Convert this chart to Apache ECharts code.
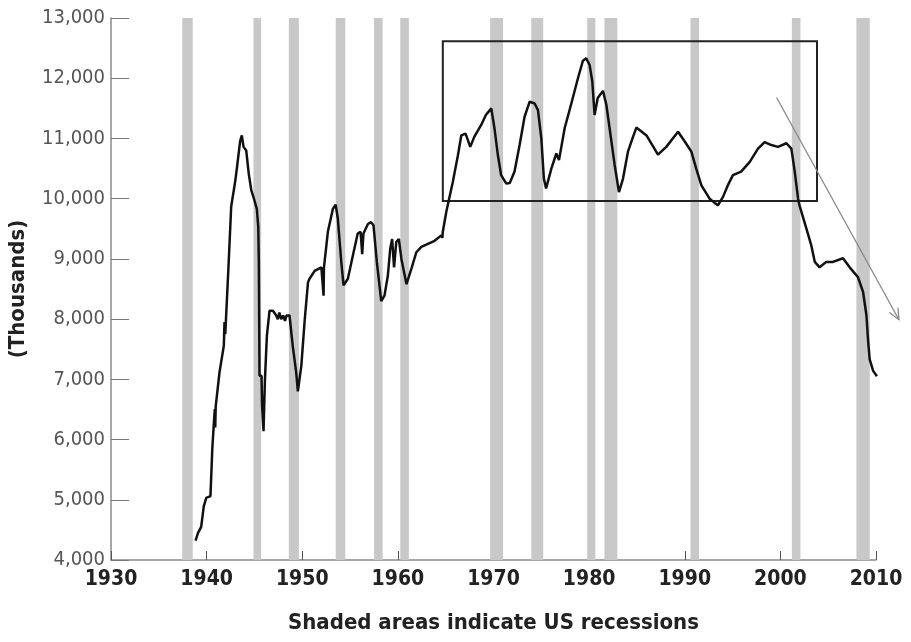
<!DOCTYPE html>
<html>
<head>
<meta charset="utf-8">
<script src="https://cdn.jsdelivr.net/npm/echarts@6/dist/echarts.min.js"></script>
<style>html,body{margin:0;padding:0;background:#fff;}#c{width:911px;height:642px;}</style>
</head>
<body>
<div id="c"></div>
<script>
// ---- data ----
const years = [1938.84,1939.1,1939.43,1939.7,1939.96,1940.4,1940.6,1940.85,1940.9,1940.95,1941.35,1941.8,1941.87,1941.95,1942.3,1942.47,1942.57,1943.0,1943.16,1943.35,1943.5,1943.68,1943.86,1944.0,1944.14,1944.4,1944.67,1945.0,1945.25,1945.4,1945.46,1945.53,1945.74,1945.8,1945.95,1946.1,1946.3,1946.58,1946.93,1947.2,1947.45,1947.6,1947.8,1948.0,1948.2,1948.35,1948.67,1949.0,1949.37,1949.54,1949.9,1950.24,1950.6,1950.76,1951.3,1952.0,1952.23,1952.27,1952.68,1953.2,1953.5,1953.72,1954.08,1954.32,1954.77,1955.3,1955.8,1956.1,1956.27,1956.4,1956.87,1957.2,1957.45,1957.8,1958.26,1958.6,1958.95,1959.2,1959.4,1959.6,1959.83,1960.1,1960.37,1960.9,1961.4,1961.93,1962.45,1963.14,1963.84,1964.54,1964.65,1964.7,1965.06,1965.75,1966.28,1966.63,1967.08,1967.57,1968.0,1968.7,1969.2,1969.77,1970.1,1970.46,1970.8,1971.34,1971.7,1972.2,1972.73,1973.25,1973.78,1974.3,1974.65,1975.0,1975.27,1975.5,1976.05,1976.57,1976.85,1977.44,1978.14,1978.83,1979.35,1979.7,1980.05,1980.33,1980.57,1980.9,1981.45,1981.8,1982.14,1982.67,1983.12,1983.54,1984.06,1984.6,1984.94,1986.0,1987.2,1988.07,1989.3,1990.0,1990.69,1991.2,1991.74,1992.6,1993.13,1993.47,1994.0,1994.5,1995.04,1995.9,1996.8,1997.66,1998.36,1999.06,1999.75,2000.63,2001.15,2001.5,2001.85,2002.0,2002.73,2003.24,2003.6,2004.1,2004.8,2005.5,2006.55,2007.25,2008.1,2008.65,2009.0,2009.16,2009.34,2009.7,2010.1];
const employment = [4320,4450,4550,4890,5030,5060,5870,6500,6200,6550,7120,7560,7950,7750,8920,8950,9870,10300,10500,10500,10950,11050,10860,10880,10800,10420,10140,9970,9830,9530,8950,7060,7060,6560,6140,7000,7720,8140,8140,8080,8000,8110,8000,8060,7970,8060,8060,7560,7110,6800,7220,7950,8610,8670,8800,8860,8390,8860,9450,9830,9900,9670,8950,8560,8670,9060,9420,9450,9080,9420,9580,9610,9560,8950,8300,8390,8720,9170,9330,8860,9280,9330,9000,8580,8830,9110,9200,9250,9300,9390,9350,9450,9780,10280,10720,11050,11080,10860,11030,11220,11390,11500,11170,10720,10390,10250,10260,10450,10890,11360,11610,11580,11470,11000,10330,10170,10500,10750,10640,11170,11580,12000,12290,12330,12220,11950,11390,11670,11790,11560,11170,10560,10110,10330,10780,11030,11180,11050,10730,10860,11110,10950,10780,10500,10220,10000,9930,9890,10030,10220,10390,10450,10610,10830,10940,10890,10860,10920,10830,10450,10000,9890,9500,9220,8950,8860,8950,8950,9010,8860,8700,8450,8060,7670,7330,7140,7050];
const recessions = [[1937.45,1938.55],[1944.9,1945.7],[1948.6,1949.65],[1953.5,1954.5],[1957.5,1958.4],[1960.25,1961.15],[1969.65,1971.0],[1973.95,1975.2],[1979.8,1980.65],[1981.6,1982.95],[1990.6,1991.5],[2001.2,2002.1],[2007.95,2009.35]];
const boxYears = [1964.7, 2003.83];
const boxValues = [12613, 9963];
const arrowYears = [1999.6, 2012.4];
const arrowValues = [11680, 7990];
const xTicks = {min:1930, max:2010, interval:10};
const yTicks = {min:4000, max:13000, interval:1000};
const yTitle = '(Thousands)';
const xTitle = 'Shaded areas indicate US recessions';

const FONT = '"Liberation Sans Narrow", "DejaVu Sans Condensed", "Liberation Sans", sans-serif';
const chart = echarts.init(document.getElementById('c'), null, {renderer:'canvas'});
const lineData = years.map((y,i)=>[y, employment[i]]);

const option = {
  animation:false,
  backgroundColor:'#fff',
  grid:{left:111, right:35, top:18, bottom:82, containLabel:false, outerBoundsMode:'none'},
  xAxis:{
    type:'value', min:xTicks.min, max:xTicks.max, interval:xTicks.interval,
    name:xTitle, nameLocation:'middle', nameGap:52,
    nameTextStyle:{fontFamily:FONT, fontWeight:'bold', fontSize:22, color:'#222'},
    axisLine:{lineStyle:{color:'#8a8a8a', width:1.5}},
    axisTick:{inside:true, length:9, lineStyle:{color:'#555', width:1}},
    axisLabel:{fontFamily:FONT, fontWeight:'bold', fontSize:21, color:'#222', margin:9,
      formatter:v=>String(v)},
    splitLine:{show:false}
  },
  yAxis:{
    type:'value', min:yTicks.min, max:yTicks.max, interval:yTicks.interval,
    name:yTitle, nameLocation:'middle', nameGap:82, nameRotate:90,
    nameTextStyle:{fontFamily:FONT, fontWeight:'bold', fontSize:22, color:'#222'},
    axisLine:{show:true, lineStyle:{color:'#8a8a8a', width:1.5}},
    axisTick:{show:true, inside:true, length:18, lineStyle:{color:'#777', width:1}},
    axisLabel:{fontFamily:FONT, fontSize:20, color:'#555', margin:6,
      formatter:v=>v.toLocaleString('en-US')},
    splitLine:{show:false}
  },
  series:[
    {
      type:'line', data:[], z:1, silent:true,
      markArea:{silent:true, z:1,
        itemStyle:{color:'#c8c8c8'},
        data:recessions.map(r=>[{coord:[r[0], yTicks.min]},{coord:[r[1], yTicks.max]}])
      }
    },
    {
      type:'line', data:lineData, z:3, showSymbol:false, symbol:'none',
      lineStyle:{color:'#111', width:2.5}, clip:false,
      markArea:{silent:true,
        itemStyle:{color:'rgba(0,0,0,0)', borderColor:'#222', borderWidth:2},
        data:[[{coord:[boxYears[0], boxValues[0]]},{coord:[boxYears[1], boxValues[1]]}]]
      }
    }
  ]
};
chart.setOption(option);

// Arrow annotation (extends past axis end, so drawn via graphic using the chart's own scales)
const p0 = chart.convertToPixel({gridIndex:0}, [arrowYears[0], arrowValues[0]]);
const p1 = chart.convertToPixel({gridIndex:0}, [arrowYears[1], arrowValues[1]]);
const ang = Math.atan2(p1[1]-p0[1], p1[0]-p0[0]);
const hl = 12, ha = 0.42;
const h1 = [p1[0]-hl*Math.cos(ang-ha), p1[1]-hl*Math.sin(ang-ha)];
const h2 = [p1[0]-hl*Math.cos(ang+ha), p1[1]-hl*Math.sin(ang+ha)];
chart.setOption({graphic:[
  {type:'line', shape:{x1:p0[0], y1:p0[1], x2:p1[0], y2:p1[1]}, style:{stroke:'#888', lineWidth:1.3}, z:10},
  {type:'polyline', shape:{points:[h1, p1, h2]}, style:{stroke:'#888', lineWidth:1.3, fill:null}, z:10}
]});
</script>
</body>
</html>
